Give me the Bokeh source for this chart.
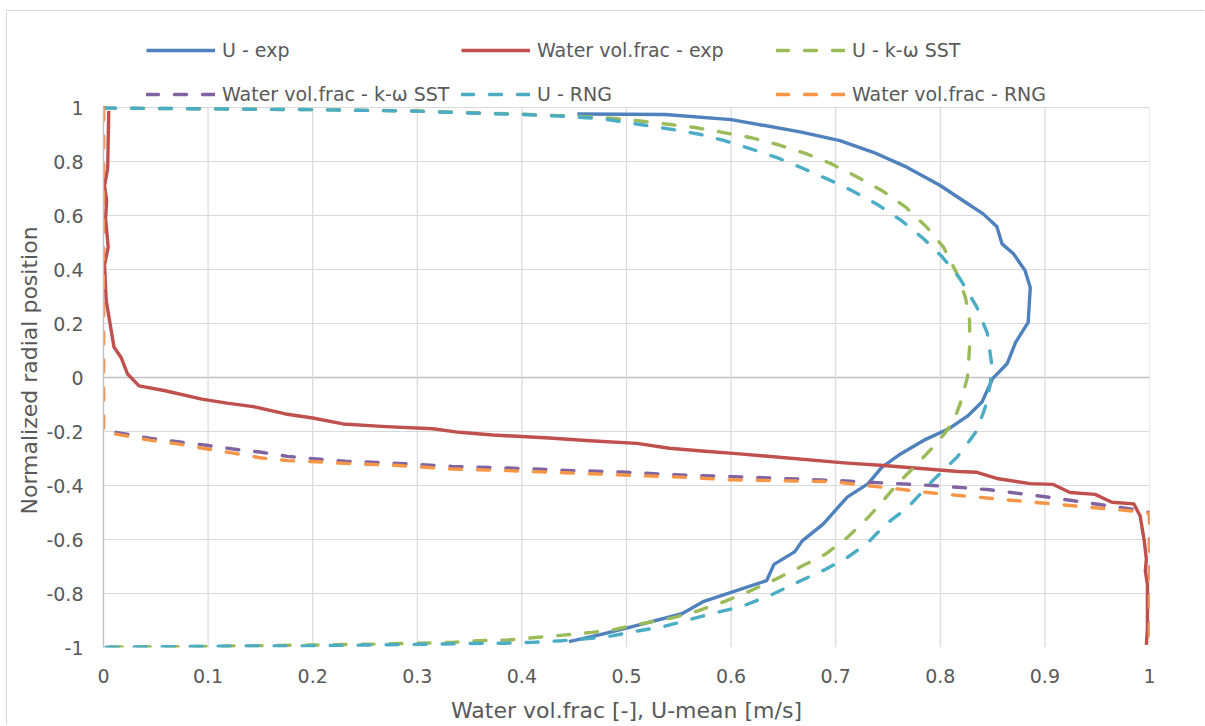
from bokeh.plotting import figure
from bokeh.models import Legend, LegendItem, Span, FixedTicker, Range1d, Title
from bokeh.embed import file_html
from bokeh.resources import INLINE

# ---- data -------------------------------------------------------------
x_ticks = [0.0, 0.1, 0.2, 0.3, 0.4, 0.5, 0.6, 0.7, 0.8, 0.9, 1.0]
x_tick_labels = ["0", "0.1", "0.2", "0.3", "0.4", "0.5", "0.6", "0.7", "0.8", "0.9", "1"]
y_ticks = [-1.0, -0.8, -0.6, -0.4, -0.2, 0.0, 0.2, 0.4, 0.6, 0.8, 1.0]
y_tick_labels = ["-1", "-0.8", "-0.6", "-0.4", "-0.2", "0", "0.2", "0.4", "0.6", "0.8", "1"]

series_names = ["U - exp", "Water vol.frac - exp", "U - k-\u03c9 SST",
                "Water vol.frac - k-\u03c9 SST", "U - RNG", "Water vol.frac - RNG"]

# measured mean velocity [m/s] vs normalized radial position
u_exp_x = [0.453, 0.537, 0.600, 0.666, 0.704, 0.736, 0.768, 0.800, 0.819, 0.841, 0.854,
           0.859, 0.870, 0.881, 0.886, 0.884, 0.872, 0.864, 0.850, 0.840, 0.827, 0.808,
           0.784, 0.762, 0.744, 0.731, 0.711, 0.688, 0.668, 0.661, 0.641, 0.634, 0.574,
           0.553, 0.500, 0.474, 0.445]
u_exp_y = [0.976, 0.974, 0.955, 0.910, 0.877, 0.834, 0.779, 0.711, 0.662, 0.606, 0.559,
           0.495, 0.458, 0.396, 0.333, 0.204, 0.130, 0.052, -0.004, -0.090, -0.140, -0.190,
           -0.233, -0.283, -0.333, -0.393, -0.443, -0.543, -0.605, -0.645, -0.692, -0.752,
           -0.829, -0.875, -0.928, -0.953, -0.978]

# measured water volume fraction
wvf_exp_x = [0.005, 0.004, 0.001, 0.003, 0.002, 0.0045, 0.001, 0.0026, 0.010, 0.017, 0.023,
             0.034, 0.059, 0.094, 0.118, 0.143, 0.174, 0.200, 0.229, 0.270, 0.315, 0.340,
             0.372, 0.426, 0.465, 0.510, 0.541, 0.575, 0.608, 0.708, 0.746, 0.817, 0.835,
             0.854, 0.886, 0.908, 0.924, 0.948, 0.964, 0.985, 0.991, 0.995, 0.997, 0.996,
             0.998, 0.998, 0.997]
wvf_exp_y = [0.987, 0.775, 0.709, 0.656, 0.589, 0.483, 0.417, 0.285, 0.113, 0.073, 0.013,
             -0.031, -0.049, -0.080, -0.095, -0.108, -0.135, -0.150, -0.172, -0.182, -0.190,
             -0.203, -0.213, -0.224, -0.234, -0.244, -0.262, -0.273, -0.283, -0.316, -0.326,
             -0.348, -0.351, -0.374, -0.393, -0.396, -0.426, -0.433, -0.462, -0.468, -0.512,
             -0.605, -0.673, -0.717, -0.766, -0.928, -0.990]

# k-omega SST velocity
u_sst_x = [0.0, 0.1, 0.2, 0.3, 0.35, 0.4, 0.475, 0.513, 0.542, 0.567, 0.593, 0.618, 0.644,
           0.671, 0.695, 0.716, 0.744, 0.767, 0.787, 0.803, 0.816, 0.824, 0.828, 0.828,
           0.826, 0.819, 0.813, 0.805, 0.793, 0.778, 0.759, 0.740, 0.731, 0.711, 0.690,
           0.666, 0.639, 0.618, 0.594, 0.567, 0.543, 0.509, 0.488, 0.467, 0.440, 0.413,
           0.387, 0.358, 0.333, 0.304, 0.250, 0.196, 0.100, 0.0]
u_sst_y = [0.998, 0.995, 0.992, 0.987, 0.981, 0.975, 0.964, 0.950, 0.937, 0.925, 0.907,
           0.889, 0.863, 0.830, 0.793, 0.752, 0.693, 0.631, 0.557, 0.483, 0.384, 0.297,
           0.211, 0.112, 0.001, -0.097, -0.159, -0.203, -0.258, -0.320, -0.394, -0.480,
           -0.518, -0.593, -0.655, -0.702, -0.754, -0.791, -0.829, -0.866, -0.891, -0.916,
           -0.934, -0.944, -0.954, -0.963, -0.972, -0.975, -0.981, -0.984, -0.988, -0.991,
           -0.996, -0.998]

# k-omega SST water volume fraction
wvf_sst_x = [0.0, 0.0, 0.011, 0.044, 0.071, 0.098, 0.124, 0.151, 0.176, 0.204, 0.231, 0.282,
             0.333, 0.387, 0.442, 0.496, 0.551, 0.600, 0.698, 0.793, 0.845, 0.905, 0.985,
             1.0, 1.0]
wvf_sst_y = [0.998, -0.200, -0.203, -0.225, -0.238, -0.251, -0.265, -0.277, -0.292, -0.302,
             -0.310, -0.318, -0.329, -0.335, -0.344, -0.350, -0.361, -0.367, -0.381, -0.400,
             -0.415, -0.444, -0.489, -0.500, -0.998]

# RNG velocity
u_rng_x = [0.0, 0.1, 0.2, 0.295, 0.347, 0.401, 0.437, 0.475, 0.513, 0.545, 0.571, 0.593,
           0.618, 0.644, 0.669, 0.695, 0.712, 0.739, 0.763, 0.784, 0.802, 0.818, 0.835,
           0.845, 0.849, 0.848, 0.843, 0.835, 0.826, 0.816, 0.793, 0.769, 0.748, 0.731,
           0.711, 0.690, 0.666, 0.639, 0.611, 0.584, 0.560, 0.536, 0.509, 0.486, 0.464,
           0.438, 0.410, 0.384, 0.355, 0.304, 0.250, 0.196, 0.144, 0.090, 0.0]
u_rng_y = [0.998, 0.995, 0.992, 0.987, 0.980, 0.974, 0.968, 0.959, 0.937, 0.918, 0.900,
           0.878, 0.848, 0.814, 0.774, 0.730, 0.699, 0.643, 0.581, 0.514, 0.446, 0.371,
           0.260, 0.163, 0.052, -0.022, -0.110, -0.196, -0.245, -0.295, -0.381, -0.481,
           -0.543, -0.611, -0.667, -0.711, -0.754, -0.804, -0.847, -0.872, -0.897, -0.922,
           -0.940, -0.957, -0.967, -0.975, -0.981, -0.984, -0.985, -0.988, -0.991, -0.994,
           -0.994, -0.996, -0.999]

# RNG water volume fraction
wvf_rng_x = [0.0, 0.0, 0.011, 0.044, 0.071, 0.098, 0.124, 0.151, 0.176, 0.204, 0.231, 0.282,
             0.333, 0.387, 0.442, 0.496, 0.551, 0.600, 0.698, 0.793, 0.889, 0.985, 1.0, 1.0]
wvf_rng_y = [0.998, -0.200, -0.209, -0.232, -0.246, -0.264, -0.280, -0.298, -0.308, -0.312,
             -0.318, -0.326, -0.339, -0.345, -0.353, -0.361, -0.369, -0.379, -0.386, -0.428,
             -0.462, -0.495, -0.503, -0.998]

# ---- layout (page pixels) -----------------------------------------------
PAGE_W, PAGE_H = 1205, 726
OFF_X, OFF_Y = 7, 11                 # chart-area margin plus its 1px border
W, H = PAGE_W - OFF_X, PAGE_H - OFF_Y
AX_L, AX_R, AX_T, AX_B = 103, 1149, 107, 647   # extent of the [0,1] x [-1,1] box
FONT = "DejaVu Sans"
TEXT = "#595959"
GRID = "#d9d9d9"

# the frame reaches up to the top of the chart area so the legend band
# above the axes lives inside it; the y range is extended accordingly
Y0, Y1 = y_ticks[0], y_ticks[-1]
y_top = Y1 + (Y1 - Y0) * (AX_T - OFF_Y) / (AX_B - AX_T)

p = figure(width=W, height=H, output_backend="svg", toolbar_location=None,
           x_range=Range1d(x_ticks[0], x_ticks[-1]), y_range=Range1d(Y0, y_top),
           min_border_left=AX_L - OFF_X, min_border_right=PAGE_W - AX_R,
           min_border_top=0, min_border_bottom=PAGE_H - AX_B)
p.margin = (10, 0, 0, 6)
p.styles = {"border-left": "1px solid " + GRID, "border-top": "1px solid " + GRID}
p.outline_line_color = None
p.background_fill_color = "white"
p.border_fill_color = "white"

p.xgrid.visible = False
p.ygrid.grid_line_color = GRID
p.ygrid.grid_line_width = 1.2
p.ygrid.ticker = FixedTicker(ticks=y_ticks)

xa, ya = p.xaxis[0], p.yaxis[0]
xa.ticker = FixedTicker(ticks=x_ticks)
ya.ticker = FixedTicker(ticks=y_ticks)
ya.bounds = (Y0, Y1)
xa.major_label_overrides = dict(zip(x_ticks, x_tick_labels))
ya.major_label_overrides = dict(zip(y_ticks, y_tick_labels))
for ax in (xa, ya):
    ax.major_tick_out = 0
    ax.major_tick_in = 0
    ax.minor_tick_out = 0
    ax.minor_tick_in = 0
    ax.major_label_text_font = FONT
    ax.major_label_text_font_size = "19px"
    ax.major_label_text_color = TEXT
xa.axis_line_color = None
ya.axis_line_color = "#bfbfbf"
ya.axis_line_width = 1.3
xa.major_label_standoff = 21
ya.major_label_standoff = 20
xa.axis_label = "Water vol.frac [-], U-mean [m/s]"
xa.axis_label_text_font = FONT
xa.axis_label_text_font_size = "22px"
xa.axis_label_text_font_style = "normal"
xa.axis_label_text_color = TEXT
xa.axis_label_standoff = 12

# y-axis title, centred on the [-1, 1] span rather than on the whole frame
Y_TITLE = "Normalized radial position"
y_title_px = 22
y_title_len = 288
y_title_center = (AX_T + AX_B) / 2 - 7
p.add_layout(Title(text=Y_TITLE, align="left",
                   offset=AX_B - (y_title_center + y_title_len / 2),
                   text_font=FONT, text_font_size=f"{y_title_px}px",
                   text_font_style="normal", text_color=TEXT, standoff=4), "left")

# vertical grid lines, limited to the value range of the y axis
p.segment(x0=x_ticks, y0=[Y0] * len(x_ticks), x1=x_ticks, y1=[Y1] * len(x_ticks),
          line_color=GRID, line_width=1.2)

# horizontal axis line crossing at zero
p.add_layout(Span(location=0, dimension="width", line_color="#bfbfbf",
                  line_width=1.3, level="underlay"))

colors = ["#4f81bd", "#c0504d", "#9bbb59", "#8064a2", "#4bacc6", "#f79646"]
xs = [u_exp_x, wvf_exp_x, u_sst_x, wvf_sst_x, u_rng_x, wvf_rng_x]
ys = [u_exp_y, wvf_exp_y, u_sst_y, wvf_sst_y, u_rng_y, wvf_rng_y]
dashed = [False, False, True, True, True, True]

renderers = []
for xv, yv, c, d in zip(xs, ys, colors, dashed):
    kw = dict(line_color=c, line_width=3.4, line_join="round")
    if d:
        kw.update(line_dash="12 16", line_cap="round")
    renderers.append(p.line(xv, yv, **kw))

# legend: 3 columns x 2 rows in the band above the axes
ROW_H = 44
LEG_LEFT, LEG_TOP = 146, 28
legend = Legend(items=[LegendItem(label=n, renderers=[r])
                       for n, r in zip(series_names, renderers)],
                orientation="horizontal", ncols=3,
                location=(LEG_LEFT - AX_L, AX_B - (LEG_TOP + 2 * ROW_H)),
                padding=0, margin=0, spacing=0,
                glyph_width=69, glyph_height=ROW_H, label_height=ROW_H,
                label_width=239, label_standoff=7,
                label_text_font=FONT, label_text_font_size="19px",
                label_text_color=TEXT, border_line_alpha=0,
                background_fill_alpha=0)
p.add_layout(legend, "center")

open("out.html", "w").write(file_html(p, INLINE))
